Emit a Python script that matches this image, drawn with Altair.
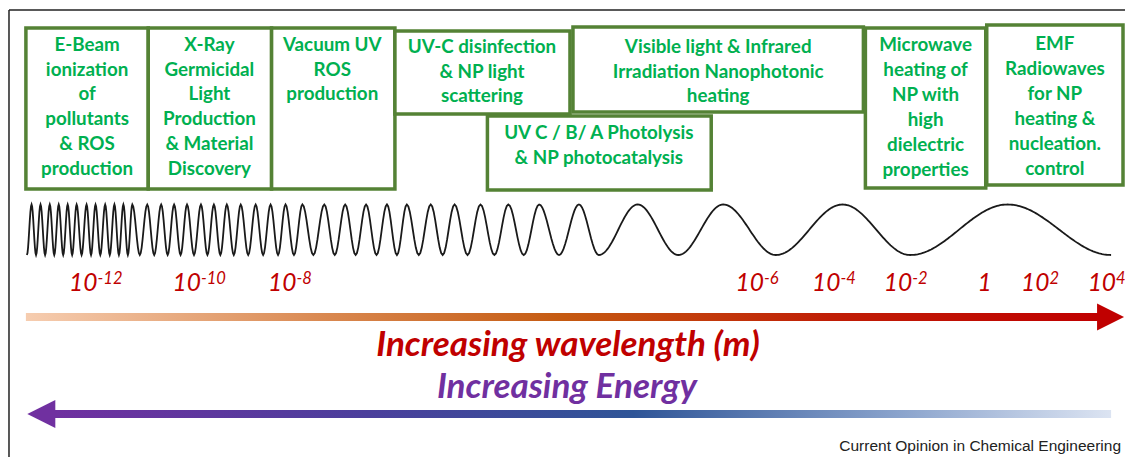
import math
import altair as alt
import pandas as pd

# ---------------- content ----------------
box_lines = [
    ["E-Beam", "ionization", "of", "pollutants", "& ROS", "production"],
    ["X-Ray", "Germicidal", "Light", "Production", "& Material", "Discovery"],
    ["Vacuum UV", "ROS", "production"],
    ["UV-C disinfection", "& NP light", "scattering"],
    ["Visible light & Infrared", "Irradiation Nanophotonic", "heating"],
    ["UV C / B/ A Photolysis", "& NP photocatalysis"],
    ["Microwave", "heating of", "NP with", "high", "dielectric", "properties"],
    ["EMF", "Radiowaves", "for NP", "heating &", "nucleation.", "control"],
]
tick_base = ["10", "10", "10", "10", "10", "10", "1", "10", "10"]
tick_exp = ["-12", "-10", "-8", "-6", "-4", "-2", "", "2", "4"]
wavelength_title = "Increasing wavelength (m)"
energy_title = "Increasing Energy"
source_note = "Current Opinion in Chemical Engineering"

# ---------------- layout (picture pixel coordinates) ----------------
box_x0 = [26, 149, 273, 397, 576, 490, 870, 992]
box_x1 = [149, 273, 397, 573, 868, 715, 991, 1129]
box_y0 = [28, 28, 28, 31, 27, 116, 28, 25]
box_y1 = [189, 189, 189, 114, 112, 190, 188, 185]
box_text_cx = [87.5, 210.5, 334, 484.5, 722, 602, 930.5, 1060.5]
box_text_y = [50.7, 50.7, 50.7, 52.7, 52.7, 139, 51, 50]
tick_join_x = [98, 202, 298, 768, 845, 917, 997, 1055, 1122]

# schematic wave: positions of crests and troughs
wave_crest_x = [31.7, 40.7, 50, 59, 68, 77, 87, 96, 105.7, 115, 124, 133, 148, 162,
                175, 188, 202, 215, 228, 242, 257, 272, 287, 304, 326, 347, 368, 389,
                409, 433, 457, 483, 511, 542, 582, 641, 727, 847, 1013]
wave_trough_x = [27, 36.2, 45.3, 54.5, 63.5, 72.5, 82, 91.5, 100.8, 110.3, 119.5, 128.5,
                 140.5, 155, 168.5, 181.5, 195, 208.5, 221.5, 235, 249.5, 264.5, 279.5,
                 295.5, 315, 336.5, 357.5, 378.5, 399, 421, 445, 470, 497, 526.5, 562,
                 602, 682, 780, 915, 1117]
wave_top, wave_bottom = 204.5, 255

# ---------------- tables ----------------
boxes = pd.DataFrame({"x0": box_x0, "x1": box_x1, "y0": box_y0, "y1": box_y1})
box_text = pd.DataFrame({"cx": box_text_cx, "y": box_text_y, "lines": box_lines})

ext = []
for i, xt in enumerate(wave_trough_x):
    ext.append((xt, wave_bottom))
    if i < len(wave_crest_x):
        ext.append((wave_crest_x[i], wave_top))
wave_pts = []
for (xa, ya), (xb, yb) in zip(ext[:-1], ext[1:]):
    n = max(8, int((xb - xa) / 1.5))
    for k in range(n):
        t = k / n
        wave_pts.append((xa + t * (xb - xa), ya + (yb - ya) * (1 - math.cos(math.pi * t)) / 2))
wave_pts.append(ext[-1])
wave = pd.DataFrame({"x": [p[0] for p in wave_pts], "y": [p[1] for p in wave_pts],
                     "o": list(range(len(wave_pts)))})

ticks = pd.DataFrame({"x": tick_join_x, "base": tick_base, "exp": tick_exp,
                      "yb": [291] * len(tick_base), "ye": [284] * len(tick_base)})

W, H = 1117, 449
xs = alt.Scale(domain=[8, 1131], nice=False, zero=False)
ys = alt.Scale(domain=[8, 8 + H], nice=False, zero=False, reverse=True)


def X(f):
    return alt.X(f, type="quantitative", scale=xs, axis=None)


def Y(f):
    return alt.Y(f, type="quantitative", scale=ys, axis=None)


frame = alt.Chart(pd.DataFrame({"x": [9, 9], "x2": [9, 1133], "y": [10, 10], "y2": [465, 10]})).mark_rule(
    color="#222222", strokeWidth=1.5).encode(x=X("x"), x2=alt.X2("x2"), y=Y("y"), y2=alt.Y2("y2"))

wave_layer = alt.Chart(wave).mark_line(color="#1a1a1a", strokeWidth=1.8).encode(
    x=X("x"), y=Y("y"), order="o:Q")

box_layer = alt.Chart(boxes).mark_rect(fill="white", stroke="#548235", strokeWidth=3.5).encode(
    x=X("x0"), x2=alt.X2("x1"), y=Y("y0"), y2=alt.Y2("y1"))

box_text_layer = alt.Chart(box_text).mark_text(
    font="Lato", fontWeight="bold", fontSize=18.8, color="#00B050", align="center",
    baseline="alphabetic", lineHeight=24.9).encode(x=X("cx"), y=Y("y"), text="lines")

tick_base_layer = alt.Chart(ticks).mark_text(
    font="Lato", fontStyle="italic", fontSize=24.5, color="#C00000", align="right",
    baseline="alphabetic").encode(x=X("x"), y=Y("yb"), text="base:N")
tick_exp_layer = alt.Chart(ticks).mark_text(
    font="Lato", fontStyle="italic", fontSize=16.5, color="#C00000", align="left",
    baseline="alphabetic").encode(x=X("x"), y=Y("ye"), text="exp:N")

orange_grad = alt.LinearGradient(
    gradient="linear", x1=0, x2=1, y1=0, y2=0,
    stops=[alt.GradientStop(color="#F6CDB0", offset=0),
           alt.GradientStop(color="#D98850", offset=0.28),
           alt.GradientStop(color="#C55A11", offset=0.5),
           alt.GradientStop(color="#C01E06", offset=0.75),
           alt.GradientStop(color="#C00000", offset=1)])
purple_grad = alt.LinearGradient(
    gradient="linear", x1=0, x2=1, y1=0, y2=0,
    stops=[alt.GradientStop(color="#7030A0", offset=0),
           alt.GradientStop(color="#4B3F9C", offset=0.3),
           alt.GradientStop(color="#2F5597", offset=0.55),
           alt.GradientStop(color="#8AA3CC", offset=0.8),
           alt.GradientStop(color="#DCE4F2", offset=1)])

orange_bar = alt.Chart(pd.DataFrame({"x0": [26], "x1": [1105], "y0": [313], "y1": [321]})).mark_rect(
    fill=orange_grad).encode(x=X("x0"), x2=alt.X2("x1"), y=Y("y0"), y2=alt.Y2("y1"))
orange_head = alt.Chart(pd.DataFrame({"x": [1116.5], "y": [317]})).mark_point(
    shape="M -1 -1 L 1 0 L -1 1 Z", size=729, filled=True, fill="#C00000", opacity=1,
    strokeWidth=0).encode(x=X("x"), y=Y("y"))

purple_bar = alt.Chart(pd.DataFrame({"x0": [50], "x1": [1117], "y0": [410], "y1": [418]})).mark_rect(
    fill=purple_grad).encode(x=X("x0"), x2=alt.X2("x1"), y=Y("y0"), y2=alt.Y2("y1"))
purple_head = alt.Chart(pd.DataFrame({"x": [41.5], "y": [414]})).mark_point(
    shape="M 1 -1 L -1 0 L 1 1 Z", size=784, filled=True, fill="#7030A0", opacity=1,
    strokeWidth=0).encode(x=X("x"), y=Y("y"))

titles = pd.DataFrame({"x": [571, 570], "y": [356, 398], "t": [wavelength_title, energy_title],
                       "c": ["#C00000", "#7030A0"]})
title_layer = alt.Chart(titles).mark_text(
    font="Lato", fontWeight="bold", fontStyle="italic", fontSize=35, align="center",
    baseline="alphabetic").encode(x=X("x"), y=Y("y"), text="t:N",
                                  color=alt.Color("c:N", scale=None))

note_layer = alt.Chart(pd.DataFrame({"x": [1127], "y": [451], "t": [source_note]})).mark_text(
    font="Liberation Sans", fontSize=15.5, color="#222222", align="right",
    baseline="alphabetic").encode(x=X("x"), y=Y("y"), text="t:N")

chart = alt.layer(
    frame, wave_layer, box_layer, box_text_layer, tick_base_layer, tick_exp_layer,
    orange_bar, orange_head, purple_bar, purple_head, title_layer, note_layer
).properties(width=W, height=H, padding=0, autosize="none", background="white"
             ).configure_view(stroke=None)

chart.save("out.html", embed_options={"renderer": "svg", "actions": False})
